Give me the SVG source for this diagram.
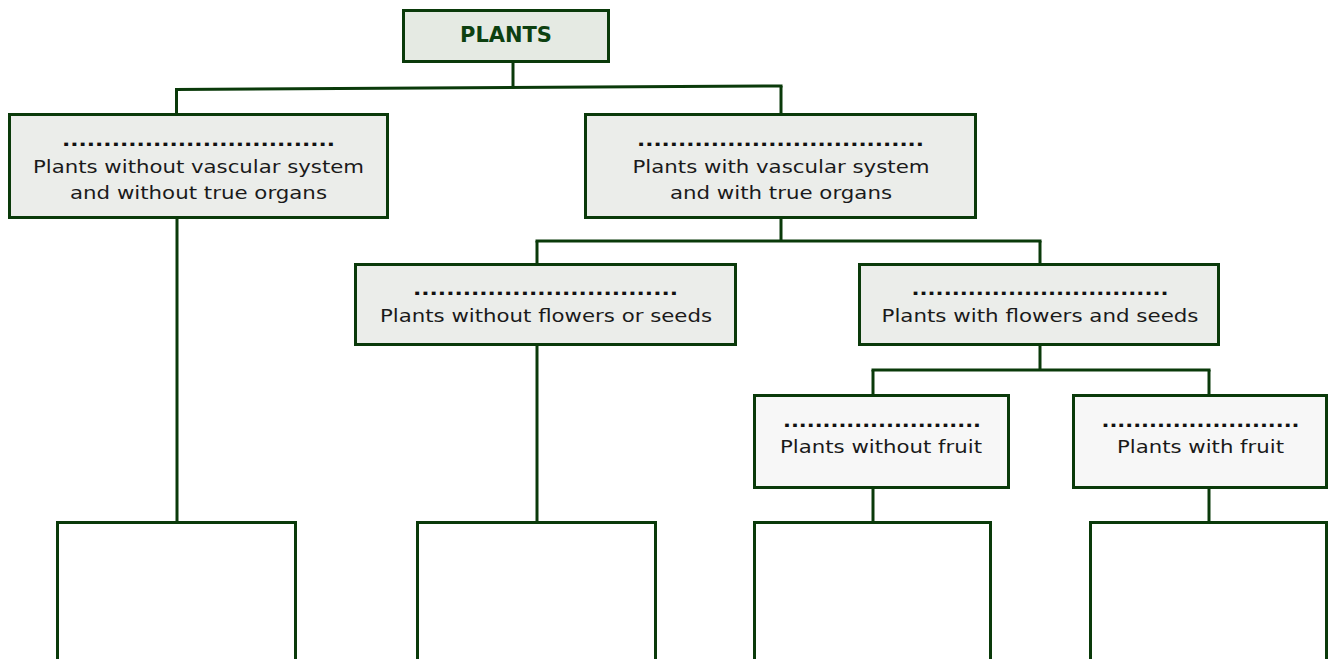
<svg xmlns="http://www.w3.org/2000/svg" width="1335" height="659" viewBox="0 0 1335 659">
<style>
.box{stroke:#0a3a0a;stroke-width:3}
.b1{fill:#ebedea}
.b2{fill:#f7f7f7}
.b0{fill:#e5eae3}
.empty{fill:#ffffff}
.con{stroke:#0a3a0a;stroke-width:3;fill:none}
text{font-family:"DejaVu Sans","Liberation Sans",sans-serif;font-size:18.5px;fill:#1a1a1a;text-anchor:middle}
.dots{font-weight:bold;fill:#111}
.title{font-weight:bold;fill:#0d4010;font-size:21px}
</style>
<rect width="1335" height="659" fill="#ffffff"/>
<g id="connectors">
<line class="con" x1="513" y1="62" x2="513" y2="88.5"/>
<line class="con" x1="175" y1="89.5" x2="782.5" y2="86"/>
<line class="con" x1="176.5" y1="89.5" x2="176.5" y2="114"/>
<line class="con" x1="781" y1="86" x2="781" y2="114"/>
<line class="con" x1="177" y1="219" x2="177" y2="522"/>
<line class="con" x1="781" y1="219" x2="781" y2="241"/>
<line class="con" x1="535.5" y1="241" x2="1041.5" y2="241"/>
<line class="con" x1="537" y1="241" x2="537" y2="264"/>
<line class="con" x1="1040" y1="241" x2="1040" y2="264"/>
<line class="con" x1="537" y1="346" x2="537" y2="522"/>
<line class="con" x1="1040" y1="346" x2="1040" y2="370"/>
<line class="con" x1="871.5" y1="370" x2="1210.5" y2="370"/>
<line class="con" x1="873" y1="370" x2="873" y2="395"/>
<line class="con" x1="1209" y1="370" x2="1209" y2="395"/>
<line class="con" x1="873" y1="489" x2="873" y2="522"/>
<line class="con" x1="1209" y1="489" x2="1209" y2="522"/>
</g>
<g id="plants">
<rect class="box b0" x="403.5" y="10.5" width="205" height="51"/>
<text class="title" x="506" y="42" textLength="92" lengthAdjust="spacingAndGlyphs">PLANTS</text>
</g>
<g id="nonvascular">
<rect class="box b1" x="9.5" y="114.5" width="378" height="103"/>
<text class="dots" x="198.5" y="146" textLength="273" lengthAdjust="spacingAndGlyphs">.................................</text>
<text x="198.5" y="173" textLength="331" lengthAdjust="spacingAndGlyphs">Plants without vascular system</text>
<text x="198.5" y="199" textLength="257" lengthAdjust="spacingAndGlyphs">and without true organs</text>
</g>
<g id="vascular">
<rect class="box b1" x="585.5" y="114.5" width="390" height="103"/>
<text class="dots" x="780.5" y="146" textLength="287" lengthAdjust="spacingAndGlyphs">...................................</text>
<text x="781" y="173" textLength="297" lengthAdjust="spacingAndGlyphs">Plants with vascular system</text>
<text x="781" y="199" textLength="222" lengthAdjust="spacingAndGlyphs">and with true organs</text>
</g>
<g id="noseeds">
<rect class="box b1" x="355.5" y="264.5" width="380" height="80"/>
<text class="dots" x="545.5" y="295" textLength="265" lengthAdjust="spacingAndGlyphs">................................</text>
<text x="546" y="322" textLength="332" lengthAdjust="spacingAndGlyphs">Plants without flowers or seeds</text>
</g>
<g id="seeds">
<rect class="box b1" x="859.5" y="264.5" width="359" height="80"/>
<text class="dots" x="1040" y="295" textLength="257" lengthAdjust="spacingAndGlyphs">................................</text>
<text x="1040" y="322" textLength="317" lengthAdjust="spacingAndGlyphs">Plants with flowers and seeds</text>
</g>
<g id="nofruit">
<rect class="box b2" x="754.5" y="395.5" width="254" height="92"/>
<text class="dots" x="882" y="427" textLength="198" lengthAdjust="spacingAndGlyphs">.........................</text>
<text x="881" y="453" textLength="202" lengthAdjust="spacingAndGlyphs">Plants without fruit</text>
</g>
<g id="fruit">
<rect class="box b2" x="1073.5" y="395.5" width="253" height="92"/>
<text class="dots" x="1200.5" y="427" textLength="198" lengthAdjust="spacingAndGlyphs">.........................</text>
<text x="1200.5" y="453" textLength="167" lengthAdjust="spacingAndGlyphs">Plants with fruit</text>
</g>
<g id="answer1"><rect class="box empty" x="57.5" y="522.5" width="238" height="200"/></g>
<g id="answer2"><rect class="box empty" x="417.5" y="522.5" width="238" height="200"/></g>
<g id="answer3"><rect class="box empty" x="754.5" y="522.5" width="236" height="200"/></g>
<g id="answer4"><rect class="box empty" x="1090.5" y="522.5" width="236" height="200"/></g>
</svg>
